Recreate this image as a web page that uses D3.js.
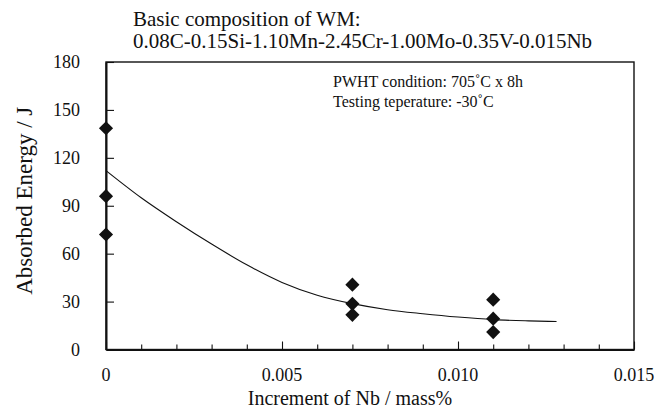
<!DOCTYPE html>
<html><head><meta charset="utf-8">
<script src="https://cdn.jsdelivr.net/npm/d3@7"></script>
<style>body{margin:0;background:#fff}svg{display:block}text{font-family:"Liberation Serif","Times New Roman",serif;fill:#111}</style>
</head><body><svg id="c" width="655" height="412"></svg>
<script>
const nbX = [0,0,0,0.007,0.007,0.007,0.011,0.011,0.011];
const energyY = [138.5,96,72,40.6,28.6,21.7,31.2,19.3,10.9];
const fitX = [0,0.001,0.002,0.003,0.004,0.005,0.006,0.007,0.008,0.009,0.010,0.011,0.012,0.0128];
const fitY = [112,95,80,66,53,42,34,28.7,24.9,22.4,20.3,18.7,17.9,17.5];
const yTicks = [0,30,60,90,120,150,180];
const xMajor = [0,0.005,0.010,0.015];
const xMajorLabels = ["0","0.005","0.010","0.015"];
const xMinor = [0,0.001,0.002,0.003,0.004,0.005,0.006,0.007,0.008,0.009,0.010,0.011,0.012,0.013,0.014,0.015];
const titleLines = ["Basic composition of WM:","0.08C-0.15Si-1.10Mn-2.45Cr-1.00Mo-0.35V-0.015Nb"];
const noteLines = ["PWHT condition: 705˚C x 8h","Testing teperature: -30˚C"];

const svg = d3.select("#c");
const L=106,R=634,T=62,B=349.5;
const x = d3.scaleLinear().domain([0,0.015]).range([L,R]);
const y = d3.scaleLinear().domain([0,180]).range([B,T]);

// frame
svg.append("rect").attr("x",L).attr("y",T).attr("width",R-L).attr("height",B-T)
  .attr("fill","none").attr("stroke","#111").attr("stroke-width",1.4);

// x axis ticks (inside)
const xa = d3.axisBottom(x).tickValues(xMinor).tickSizeInner(-5).tickSizeOuter(0).tickFormat("");
const gx = svg.append("g").attr("transform",`translate(0,${B})`).call(xa);
gx.select(".domain").attr("stroke","#111").attr("stroke-width",2);
gx.selectAll(".tick line").attr("stroke","#111").attr("stroke-width",1.1)
  .attr("y2",d=>xMajor.some(m=>Math.abs(m-d)<1e-9)?-8:-5);
xMajor.forEach((v,i)=>svg.append("text").attr("x",x(v)).attr("y",B+31)
  .attr("text-anchor","middle").attr("font-size",18).text(xMajorLabels[i]));

// y axis ticks (inside)
const ya = d3.axisLeft(y).tickValues(yTicks).tickSizeInner(-8).tickSizeOuter(0).tickFormat("");
const gy = svg.append("g").attr("transform",`translate(${L},0)`).call(ya);
gy.select(".domain").attr("stroke","#111").attr("stroke-width",2);
gy.selectAll(".tick line").attr("stroke","#111").attr("stroke-width",1.1);
yTicks.forEach(v=>svg.append("text").attr("x",80).attr("y",y(v)+6)
  .attr("text-anchor","end").attr("font-size",18).text(v));

// fitted curve
const line = d3.line().x((d,i)=>x(fitX[i])).y(d=>y(d)).curve(d3.curveMonotoneX);
svg.append("path").attr("d",line(fitY)).attr("fill","none").attr("stroke","#111").attr("stroke-width",1.1);

// diamonds
const sym = d3.symbol().type(d3.symbolSquare).size(100);
nbX.forEach((v,i)=>svg.append("path").attr("d",sym())
  .attr("transform",`translate(${x(v)},${y(energyY[i])}) rotate(45)`).attr("fill","#111"));

// titles
titleLines.forEach((t,i)=>svg.append("text").attr("x",133).attr("y",26+i*22)
  .attr("font-size",21).text(t));
noteLines.forEach((t,i)=>svg.append("text").attr("x",333).attr("y",87+i*20)
  .attr("font-size",16).text(t));
svg.append("text").attr("transform",`translate(32,${(T+B)/2-5}) rotate(-90)`)
  .attr("text-anchor","middle").attr("font-size",23).text("Absorbed Energy / J");
svg.append("text").attr("x",350).attr("y",405).attr("text-anchor","middle")
  .attr("font-size",20).text("Increment of Nb / mass%");
</script></body></html>
